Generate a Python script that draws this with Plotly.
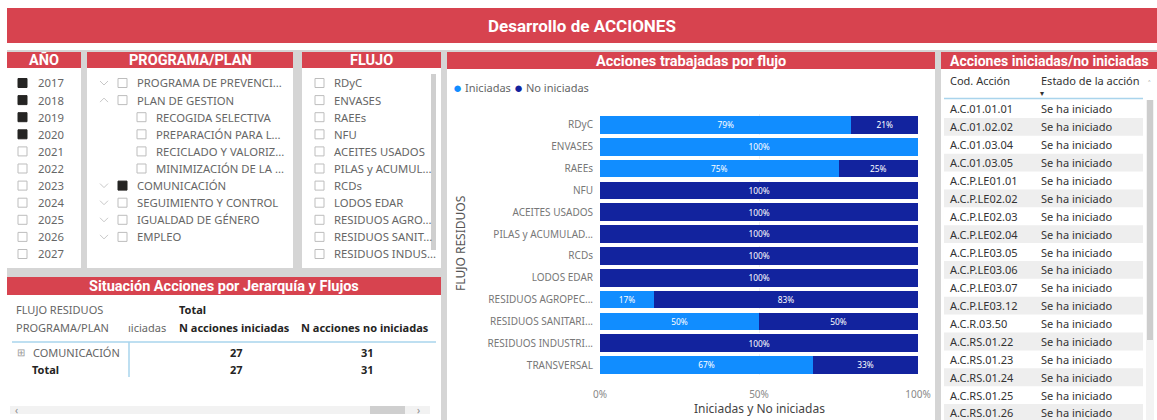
import plotly.graph_objects as go

# ---------------- DATA ----------------
years = ["2017", "2018", "2019", "2020", "2021", "2022", "2023", "2024", "2025", "2026", "2027"]
years_selected = [True, True, True, True, False, False, False, False, False, False, False]

programa_items = ["PROGRAMA DE PREVENCI...", "PLAN DE GESTION", "RECOGIDA SELECTIVA",
                  "PREPARACIÓN PARA L...", "RECICLADO Y VALORIZ...", "MINIMIZACIÓN DE LA ...",
                  "COMUNICACIÓN", "SEGUIMIENTO Y CONTROL", "IGUALDAD DE GÉNERO", "EMPLEO"]
programa_level = [0, 0, 1, 1, 1, 1, 0, 0, 0, 0]
programa_chevron = ["down", "up", "", "", "", "", "down", "down", "down", "down"]
programa_selected = [False, False, False, False, False, False, True, False, False, False]

flujo_items = ["RDyC", "ENVASES", "RAEEs", "NFU", "ACEITES USADOS", "PILAS y ACUMUL...",
               "RCDs", "LODOS EDAR", "RESIDUOS AGRO...", "RESIDUOS SANIT...", "RESIDUOS INDUS..."]

flujos = ["RDyC", "ENVASES", "RAEEs", "NFU", "ACEITES USADOS", "PILAS y ACUMULAD...", "RCDs",
          "LODOS EDAR", "RESIDUOS AGROPEC...", "RESIDUOS SANITARI...", "RESIDUOS INDUSTRI...",
          "TRANSVERSAL"]
pct_iniciadas = [79, 100, 75, 0, 0, 0, 0, 0, 17, 50, 0, 67]
pct_no_iniciadas = [21, 0, 25, 100, 100, 100, 100, 100, 83, 50, 100, 33]
x_ticks = [0, 50, 100]

matrix_rows = ["COMUNICACIÓN", "Total"]
n_iniciadas = [27, 27]
n_no_iniciadas = [31, 31]

table_columns = ["Cod. Acción", "Estado de la acción"]
cod_accion = ["A.C.01.01.01", "A.C.01.02.02", "A.C.01.03.04", "A.C.01.03.05", "A.C.P.LE01.01",
              "A.C.P.LE02.02", "A.C.P.LE02.03", "A.C.P.LE02.04", "A.C.P.LE03.05", "A.C.P.LE03.06",
              "A.C.P.LE03.07", "A.C.P.LE03.12", "A.C.R.03.50", "A.C.RS.01.22", "A.C.RS.01.23",
              "A.C.RS.01.24", "A.C.RS.01.25", "A.C.RS.01.26"]
estado_accion = ["Se ha iniciado", "Se ha iniciado", "Se ha iniciado", "Se ha iniciado",
                 "Se ha iniciado", "Se ha iniciado", "Se ha iniciado", "Se ha iniciado",
                 "Se ha iniciado", "Se ha iniciado", "Se ha iniciado", "Se ha iniciado",
                 "Se ha iniciado", "Se ha iniciado", "Se ha iniciado", "Se ha iniciado",
                 "Se ha iniciado", "Se ha iniciado"]

# ---------------- STYLE ----------------
W, H = 1157, 420
RED = "#D7434F"
GAP = "#D5D5D5"
C_INI = "#118DFF"
C_NO = "#12239E"
TXT = "#666666"
DARK = "#333333"
FONT = "Noto Sans, Open Sans, sans-serif"
HFONT = "Roboto, Noto Sans, sans-serif"


def X(px):
    return px / W


def Y(py):
    return 1 - py / H


shapes = []
annotations = []


def rect(x0, y0, x1, y1, fill, line=None, lw=0):
    shapes.append(dict(type="rect", xref="paper", yref="paper", x0=X(x0), x1=X(x1), y0=Y(y1), y1=Y(y0),
                       fillcolor=fill, line=dict(color=line or fill, width=lw), layer="below"))


def line(x0, y0, x1, y1, color, width=1):
    shapes.append(dict(type="line", xref="paper", yref="paper", x0=X(x0), x1=X(x1), y0=Y(y0), y1=Y(y1),
                       line=dict(color=color, width=width), layer="above"))


def text(x, y, s, size=11, color=TXT, anchor="left", font=FONT, angle=0):
    annotations.append(dict(x=X(x), y=Y(y), xref="paper", yref="paper", text=s, showarrow=False,
                            xanchor=anchor, yanchor="middle", textangle=angle,
                            font=dict(size=size, color=color, family=font)))


def checkbox(x, yc, filled):
    shapes.append(dict(type="rect", xref="paper", yref="paper", x0=X(x), x1=X(x + 9),
                       y0=Y(yc + 4.5), y1=Y(yc - 4.5),
                       fillcolor="#252423" if filled else "white",
                       line=dict(color="#252423" if filled else "#BDBDBD", width=1), layer="above"))


def chevron(xc, yc, direction):
    if direction == "down":
        pts = [(xc - 4, yc - 2), (xc, yc + 2), (xc + 4, yc - 2)]
    else:
        pts = [(xc - 4, yc + 2), (xc, yc - 2), (xc + 4, yc + 2)]
    path = "M {} {} L {} {} L {} {}".format(X(pts[0][0]), Y(pts[0][1]), X(pts[1][0]), Y(pts[1][1]),
                                             X(pts[2][0]), Y(pts[2][1]))
    shapes.append(dict(type="path", xref="paper", yref="paper", path=path,
                       line=dict(color="#C8C8C8", width=1), layer="above"))


# background & panels
rect(7, 50, W, H, GAP)
rect(7, 8, W, 43, RED)
text(582, 25.5, "<b>Desarrollo de ACCIONES</b>", size=17, color="white", anchor="center", font=HFONT)

panels = [
    (7, 52, 81, 268, 68, "AÑO", 14.5),
    (87, 52, 293, 268, 68, "PROGRAMA/PLAN", 14.5),
    (302, 52, 441, 268, 68, "FLUJO", 14.5),
    (7, 277, 441, H, 295, "Situación Acciones por Jerarquía y Flujos", 14.5),
    (447, 52, 935, H, 69, "Acciones trabajadas por flujo", 14.5),
    (941, 52, W, H, 69, "Acciones iniciadas/no iniciadas", 14),
]
for (x0, y0, x1, y1, hb, title, fs) in panels:
    rect(x0, y0, x1, y1, "white")
    rect(x0, y0, x1, hb, RED)
    text((x0 + x1) / 2, (y0 + hb) / 2 + 0.5, "<b>" + title + "</b>", size=fs, color="white",
         anchor="center", font=HFONT)

ROW0, STEP = 83, 17.1

# AÑO slicer
for i, (yr, sel) in enumerate(zip(years, years_selected)):
    yc = ROW0 + STEP * i
    checkbox(18, yc, sel)
    text(36, yc, yr, size=11.3)

# PROGRAMA slicer
for i, (it, lev, chev, sel) in enumerate(zip(programa_items, programa_level, programa_chevron, programa_selected)):
    yc = ROW0 + STEP * i
    if chev:
        chevron(104, yc, chev)
    cx = 118 + 19 * lev
    checkbox(cx, yc, sel)
    text(cx + 17, yc, it, size=11.3)

# FLUJO slicer
for i, it in enumerate(flujo_items):
    yc = ROW0 + STEP * i
    checkbox(315, yc, False)
    text(332, yc, it, size=11.3)
rect(431, 74, 436, 250, "#CFCFCF")

# Matrix (Situación acciones)
text(14, 309, "FLUJO RESIDUOS")
text(177, 309, "<b>Total</b>", color="#252423")
text(14, 327, "PROGRAMA/PLAN")
text(126, 327, "ıiciadas")
text(177, 327, "<b>N acciones iniciadas</b>", color="#252423")
text(299, 327, "<b>N acciones no iniciadas</b>", color="#252423")
line(12, 342, 436, 342, "#A9D4EC", 1.5)
line(129, 342, 129, 377, "#A9D4EC", 1.5)
for i, (r, a, b) in enumerate(zip(matrix_rows, n_iniciadas, n_no_iniciadas)):
    yc = 352 + 17 * i
    if r == "Total":
        text(30, yc, "<b>" + r + "</b>", color="#252423")
    else:
        text(15, yc, "⊞", size=10, color="#999999")
        text(31, yc, r)
    text(236, yc, "<b>{}</b>".format(a), color="#252423", anchor="center")
    text(367, yc, "<b>{}</b>".format(b), color="#252423", anchor="center")
rect(10, 406, 430, 414, "#F2F2F2")
rect(370, 406, 405, 414, "#CFCFCF")
text(16, 410, "‹", size=10, color="#888888", anchor="center")
text(418, 410, "›", size=10, color="#888888", anchor="center")

# Bar chart panel extras (legend, axis titles)
text(457.5, 87, "●", size=15, color=C_INI, anchor="center")
text(463, 87, "Iniciadas", size=11, color=TXT)
text(518, 87, "●", size=15, color=C_NO, anchor="center")
text(524, 87, "No iniciadas", size=11, color=TXT)
text(460, 243, "FLUJO RESIDUOS", size=12, color="#555555", anchor="center", angle=-90)
text(759, 408, "Iniciadas y No iniciadas", size=12, color="#444444", anchor="center")

# Right table (acciones iniciadas / no iniciadas)
TROW0, TSTEP = 109, 17.88
COLX = [948, 1039]
rect(1146, 100, 1154, H, "#F3F3F3")
rect(1147, 100, 1153, 340, "#CDCDCD")
text(1149, 84, "˄", size=9, color="#999999", anchor="center")
for cx, cname in zip(COLX, table_columns):
    text(cx, 81, cname, size=11, color=DARK)
text(1042, 92, "▾", size=8, color=DARK, anchor="center")
for i, (c, e) in enumerate(zip(cod_accion, estado_accion)):
    yc = TROW0 + TSTEP * i
    if i % 2 == 1:
        rect(944, yc - TSTEP / 2, 1143, min(yc + TSTEP / 2, H), "#EEEEEE")
    text(COLX[0], yc, c, size=11, color=DARK)
    text(COLX[1], yc, e, size=11, color=DARK)
line(944, 98.5, 1143, 98.5, "#A9D4EC", 1.5)

fig = go.Figure()

fig.add_trace(go.Bar(
    y=flujos, x=pct_iniciadas, orientation="h", name="Iniciadas", marker=dict(color=C_INI, line=dict(width=0)),
    text=["{}%".format(v) if v else "" for v in pct_iniciadas], textposition="inside",
    insidetextanchor="middle", textfont=dict(color="white", size=10, family=FONT), showlegend=False))
fig.add_trace(go.Bar(
    y=flujos, x=pct_no_iniciadas, orientation="h", name="No iniciadas", marker=dict(color=C_NO, line=dict(width=0)),
    text=["{}%".format(v) if v else "" for v in pct_no_iniciadas], textposition="inside",
    insidetextanchor="middle", textfont=dict(color="white", size=10, family=FONT), showlegend=False))

fig.update_layout(
    width=W, height=H, autosize=False, margin=dict(l=0, r=0, t=0, b=0, pad=0, autoexpand=False),
    paper_bgcolor="white", plot_bgcolor="white",
    barmode="stack", bargap=0.19,
    font=dict(family=FONT, color=TXT),
    xaxis=dict(domain=[X(600), X(918)], range=[0, 100], tickvals=x_ticks,
               ticktext=["{}%".format(v) for v in x_ticks], showgrid=True, gridcolor="#EFEFEF",
               griddash="dot", zeroline=False, showline=False, ticks="", automargin=False,
               tickfont=dict(size=10, color="#888888"), ticklabelstandoff=11, fixedrange=True),
    yaxis=dict(domain=[Y(376), Y(114)], categoryorder="array", categoryarray=flujos,
               autorange="reversed", showgrid=False, zeroline=False, showline=False, ticks="",
               automargin=False,
               tickfont=dict(size=10, color="#777777"), ticklabelstandoff=6, fixedrange=True),
    shapes=shapes, annotations=annotations,
)

fig.write_html("out.html",
               config={"displayModeBar": False, "responsive": False},
               post_script="document.documentElement.style.margin='0';document.body.style.margin='0';"
                           "document.documentElement.style.overflow='hidden';document.body.style.overflow='hidden';")
